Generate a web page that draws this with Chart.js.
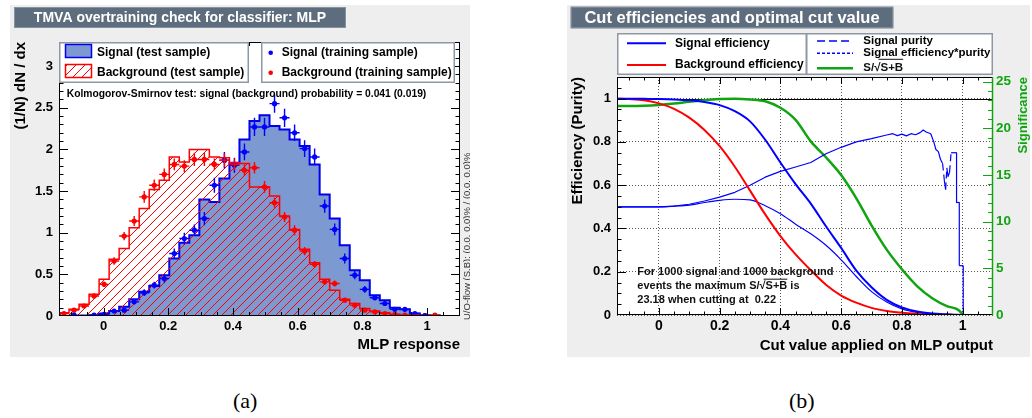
<!DOCTYPE html>
<html>
<head>
<meta charset="utf-8">
<title>MLP overtraining check and cut efficiencies</title>
<script src="https://cdn.jsdelivr.net/npm/chart.js@4.4.1/dist/chart.umd.min.js"></script>
<style>
  html, body { margin: 0; padding: 0; background: #fff; }
  body { position: relative; width: 1032px; height: 418px; overflow: hidden; }
  canvas { position: absolute; display: block; }
  #overtrain { left: 10px; top: 5px; }
  #cuteff { left: 567px; top: 5px; }
  .sub { position: absolute; top: 388px; font: 22px 'Liberation Serif', 'Times New Roman', serif; color: #000; }
</style>
</head>
<body>
<canvas id="overtrain" width="460" height="352"></canvas>
<canvas id="cuteff" width="463" height="352"></canvas>
<div class="sub" style="left:233px">(a)</div>
<div class="sub" style="left:789px">(b)</div>
<script>
// MLP response, 40 bins from -0.138 to 1.102, normalised to unit area
var binLow = -0.138;
var binWidth = 0.031;

var sigTest = [0, 0, 0.005, 0.01, 0.03, 0.06, 0.11, 0.20, 0.29, 0.36,
               0.49, 0.69, 0.88, 0.97, 1.40, 1.37, 1.65, 1.84, 2.12, 2.34,
               2.41, 2.28, 2.24, 2.12, 2.04, 1.82, 1.46, 1.17, 0.85, 0.55,
               0.43, 0.25, 0.19, 0.10, 0.08, 0.03, 0.01, 0.005, 0, 0];
var bkgTest = [0.04, 0.08, 0.14, 0.26, 0.44, 0.68, 0.81, 1.06, 1.29, 1.52,
               1.63, 1.91, 1.85, 2.00, 2.00, 1.91, 1.90, 1.84, 1.83, 1.55,
               1.55, 1.44, 1.20, 1.04, 0.80, 0.64, 0.44, 0.31, 0.20, 0.15,
               0.09, 0.06, 0.04, 0.02, 0.01, 0.01, 0.005, 0, 0, 0];
var sigTrain = [0, 0.01, 0, 0.01, 0.02, 0.06, 0.07, 0.17, 0.28, 0.37,
                0.45, 0.75, 0.93, 1.03, 1.17, 1.57, 1.87, 1.81, 1.97, 2.27,
                2.27, 2.55, 2.38, 2.20, 2.01, 1.91, 1.32, 1.04, 0.69, 0.49,
                0.32, 0.22, 0.15, 0.08, 0.08, 0.03, 0.005, 0, 0, 0];
var sigTrainErr = [0, 0.01, 0, 0.01, 0.01, 0.02, 0.02, 0.03, 0.04, 0.04,
                   0.05, 0.06, 0.07, 0.07, 0.08, 0.09, 0.10, 0.09, 0.10, 0.11,
                   0.11, 0.11, 0.11, 0.10, 0.10, 0.10, 0.08, 0.07, 0.06, 0.05,
                   0.04, 0.03, 0.03, 0.02, 0.02, 0.01, 0.005, 0, 0, 0];
var bkgTrain = [0.03, 0.07, 0.12, 0.24, 0.38, 0.66, 0.96, 1.14, 1.43, 1.57,
                1.70, 1.82, 1.80, 1.88, 1.88, 1.82, 1.87, 1.82, 1.75, 1.78,
                1.55, 1.36, 1.19, 1.03, 0.78, 0.62, 0.41, 0.39, 0.19, 0.13,
                0.07, 0.05, 0.03, 0.02, 0.01, 0.01, 0.005, 0.01, 0, 0];
var bkgTrainErr = [0.01, 0.015, 0.02, 0.03, 0.03, 0.045, 0.05, 0.06, 0.07, 0.07,
                   0.07, 0.07, 0.07, 0.08, 0.08, 0.07, 0.08, 0.07, 0.07, 0.07,
                   0.07, 0.06, 0.06, 0.06, 0.05, 0.04, 0.035, 0.035, 0.025, 0.02,
                   0.015, 0.012, 0.01, 0.008, 0.006, 0.006, 0.004, 0.006, 0, 0];

var respTicks = [0, 0.2, 0.4, 0.6, 0.8, 1];
var respTickLabels = ['0', '0.2', '0.4', '0.6', '0.8', '1'];
var densityTicks = [0, 0.5, 1, 1.5, 2, 2.5, 3];
var densityTickLabels = ['0', '0.5', '1', '1.5', '2', '2.5', '3'];

// efficiencies vs. cut on the MLP output
var cutValues = [-0.138, -0.1, -0.05, 0, 0.05, 0.1, 0.15, 0.2, 0.25, 0.3,
                 0.35, 0.4, 0.45, 0.5, 0.55, 0.6, 0.65, 0.7, 0.75, 0.8,
                 0.85, 0.9, 0.95, 0.98, 0.995, 1.0];
var effSig = [1.0, 1.0, 0.999, 0.998, 0.996, 0.992, 0.984, 0.97, 0.942, 0.895,
              0.81, 0.705, 0.605, 0.515, 0.41, 0.31, 0.205, 0.128, 0.07, 0.035,
              0.016, 0.007, 0.003, 0.001, 0, 0];
var effBkg = [1.0, 0.998, 0.993, 0.978, 0.953, 0.912, 0.855, 0.78, 0.685, 0.575,
              0.465, 0.365, 0.28, 0.207, 0.14, 0.09, 0.057, 0.033, 0.019, 0.01,
              0.005, 0.002, 0.001, 0.0005, 0, 0];
var effPurity = [0.5, 0.5, 0.5, 0.5, 0.503, 0.508, 0.52, 0.53, 0.535, 0.532,
                 0.505, 0.468, 0.42, 0.375, 0.322, 0.255, 0.178, 0.108, 0.06, 0.028,
                 0.012, 0.005, 0.002, 0.001, 0, 0];
var significance = [22.4, 22.4, 22.42, 22.5, 22.65, 22.85, 23.0, 23.15, 23.18, 23.1,
                    22.9, 22.2, 20.9, 18.6, 16.9, 15.0, 12.5, 9.6, 7.0, 4.9,
                    3.1, 1.8, 0.93, 0.65, 0.25, 0];
var purityCut = [-0.138, 0, 0.05, 0.1, 0.15, 0.2, 0.25, 0.3, 0.35, 0.4,
                 0.45, 0.5, 0.55, 0.6, 0.65, 0.7, 0.75, 0.77, 0.785, 0.8,
                 0.815, 0.83, 0.845, 0.86, 0.87, 0.88, 0.895, 0.905, 0.912, 0.92,
                 0.927, 0.934, 0.94, 0.944, 0.948, 0.952, 0.957, 0.962, 0.98, 0.98,
                 0.989, 0.989, 1.002, 1.002];
var purity = [0.5, 0.5, 0.503, 0.512, 0.527, 0.545, 0.567, 0.6, 0.637, 0.664,
              0.684, 0.705, 0.745, 0.775, 0.8, 0.815, 0.832, 0.838, 0.829, 0.836,
              0.828, 0.838, 0.833, 0.843, 0.855, 0.846, 0.838, 0.80, 0.765, 0.755,
              0.72, 0.70, 0.62, 0.58, 0.68, 0.64, 0.66, 0.75, 0.75, 0.52,
              0.52, 0.228, 0.228, 0];

var effTicks = [0, 0.2, 0.4, 0.6, 0.8, 1];
var effTickLabels = ['0', '0.2', '0.4', '0.6', '0.8', '1'];
var signifTicks = [0, 5, 10, 15, 20, 25];
var signifTickLabels = ['0', '5', '10', '15', '20', '25'];
var nSignal = 1000, nBackground = 1000;
var maxSignificance = 23.18;
var optimalCut = 0.22;

var FONT = "'Liberation Sans', Arial, Helvetica, sans-serif";
var PANEL_BG = '#eeeeee';
var SIG_LINE = '#0000ee';
var SIG_FILL = '#7d99d1';
var BKG_LINE = '#ff0000';
var SIGNIF = '#10a510';

Chart.defaults.font.family = FONT;
Chart.defaults.color = '#000';

function stepData(vals) {
    var pts = vals.map(function (v, i) { return { x: binLow + i * binWidth, y: v }; });
    pts.push({ x: binLow + vals.length * binWidth, y: vals[vals.length - 1] });
    return pts;
}
function pointData(vals) {
    return vals.map(function (v, i) { return { x: binLow + (i + 0.5) * binWidth, y: v > 0 ? v : null }; });
}
function xy(xs, ys) {
    return xs.map(function (x, i) { return { x: x, y: ys[i] }; });
}
function multiples(lo, hi, step) {
    var out = [];
    for (var k = Math.ceil(lo / step - 1e-6); k <= Math.floor(hi / step + 1e-6); k++) out.push(k * step);
    return out;
}

// diagonal red hatching for the background histogram
function hatchPattern(color) {
    var c = document.createElement('canvas');
    c.width = 9; c.height = 9;
    var g = c.getContext('2d');
    g.strokeStyle = color; g.lineWidth = 1;
    g.beginPath(); g.moveTo(-1, 10); g.lineTo(10, -1); g.stroke();
    return g.createPattern(c, 'repeat');
}
var bkgHatch = hatchPattern(BKG_LINE);

function txt(ctx, s, x, y, size, o) {
    o = o || {};
    ctx.font = (o.weight || 'bold') + ' ' + size + 'px ' + FONT;
    ctx.fillStyle = o.color || '#000';
    ctx.textAlign = o.align || 'left';
    ctx.textBaseline = 'middle';
    ctx.fillText(s, x, y);
}
// "prefix S/√S+B suffix" with the bar over S+B
function sqrtText(ctx, prefix, suffix, x, y, size, barY) {
    txt(ctx, prefix + 'S/\u221AS+B' + suffix, x, y, size, { color: '#111' });
    var w0 = ctx.measureText(prefix + 'S/\u221A').width;
    var w1 = ctx.measureText(prefix + 'S/\u221AS+B').width;
    var yy = barY !== undefined ? barY : y - size * 0.62;
    ctx.strokeStyle = '#111'; ctx.lineWidth = 1;
    ctx.beginPath(); ctx.moveTo(x + w0 - 2, yy); ctx.lineTo(x + w1, yy); ctx.stroke();
}
function titleBox(ctx, x0, y0, x1, y1, text, size) {
    ctx.fillStyle = '#5e6d7e';
    ctx.fillRect(x0, y0, x1 - x0, y1 - y0);
    ctx.strokeStyle = '#8593a1'; ctx.lineWidth = 1;
    ctx.strokeRect(x0 + 0.5, y0 + 0.5, x1 - x0 - 1, y1 - y0 - 1);
    txt(ctx, text, (x0 + x1) / 2, (y0 + y1) / 2 + 0.5, size, { color: '#fff', align: 'center' });
}
function legendBox(ctx, x0, y0, x1, y1) {
    ctx.fillStyle = '#fff';
    ctx.fillRect(x0, y0, x1 - x0, y1 - y0);
    ctx.strokeStyle = '#8e98a4'; ctx.lineWidth = 1.5;
    ctx.strokeRect(x0 + 0.75, y0 + 0.75, x1 - x0 - 1.5, y1 - y0 - 1.5);
}
// inward tick marks along the frame
function tickMarks(ctx, area, scale, values, len, sides) {
    ctx.beginPath();
    values.forEach(function (v) {
        var p = Math.round(scale.getPixelForValue(v)) + 0.5;
        if (scale.isHorizontal()) {
            if (p < area.left || p > area.right) return;
            if (sides.bottom) { ctx.moveTo(p, area.bottom); ctx.lineTo(p, area.bottom - len); }
            if (sides.top) { ctx.moveTo(p, area.top); ctx.lineTo(p, area.top + len); }
        } else {
            if (p < area.top || p > area.bottom) return;
            if (sides.left) { ctx.moveTo(area.left, p); ctx.lineTo(area.left + len, p); }
            if (sides.right) { ctx.moveTo(area.right, p); ctx.lineTo(area.right - len, p); }
        }
    });
    ctx.stroke();
}
function errorBars(ctx, xs, ys, vals, errs, color) {
    ctx.strokeStyle = color; ctx.lineWidth = 1.4;
    ctx.beginPath();
    vals.forEach(function (v, i) {
        if (!(v > 0)) return;
        var xc = binLow + (i + 0.5) * binWidth;
        var px = xs.getPixelForValue(xc), py = ys.getPixelForValue(v);
        ctx.moveTo(xs.getPixelForValue(xc - binWidth / 2), py);
        ctx.lineTo(xs.getPixelForValue(xc + binWidth / 2), py);
        ctx.moveTo(px, ys.getPixelForValue(v - errs[i]));
        ctx.lineTo(px, ys.getPixelForValue(v + errs[i]));
    });
    ctx.stroke();
}
function panelBackground(chart) {
    var ctx = chart.ctx, a = chart.chartArea;
    ctx.save();
    ctx.fillStyle = PANEL_BG; ctx.fillRect(0, 0, chart.width, chart.height);
    ctx.fillStyle = '#fff'; ctx.fillRect(a.left, a.top, a.right - a.left, a.bottom - a.top);
    ctx.restore();
}
function fixedTicks(values) {
    return function (scale) { scale.ticks = values.map(function (v) { return { value: v }; }); };
}
function labelFor(values, labels) {
    return function (v) { return labels[values.indexOf(v)]; };
}

// ---------- (a) overtraining check ----------
var overtrainDecor = {
    id: 'overtrainDecor',
    beforeDraw: panelBackground,
    afterDatasetsDraw: function (chart) {
        var ctx = chart.ctx, a = chart.chartArea, x = chart.scales.x, y = chart.scales.y;
        ctx.save();
        ctx.beginPath(); ctx.rect(a.left, a.top, a.right - a.left, a.bottom - a.top); ctx.clip();
        errorBars(ctx, x, y, sigTrain, sigTrainErr, '#0000ff');
        errorBars(ctx, x, y, bkgTrain, bkgTrainErr, BKG_LINE);
        ctx.restore();

        ctx.save();
        ctx.strokeStyle = '#000'; ctx.lineWidth = 1;
        ctx.strokeRect(a.left + 0.5, a.top + 0.5, a.right - a.left - 1, a.bottom - a.top - 1);
        tickMarks(ctx, a, x, respTicks, 8, { bottom: true, top: true });
        tickMarks(ctx, a, x, multiples(binLow, 1.1, 0.05), 4, { bottom: true, top: true });
        tickMarks(ctx, a, y, densityTicks, 9, { left: true, right: true });
        tickMarks(ctx, a, y, multiples(0, 3.29, 0.1), 4.5, { left: true, right: true });

        // legends
        legendBox(ctx, 49, 37, 239, 78);
        legendBox(ctx, 251, 37, 445, 78);
        ctx.fillStyle = SIG_FILL; ctx.fillRect(55, 39, 27, 14);
        ctx.strokeStyle = SIG_LINE; ctx.lineWidth = 1.5; ctx.strokeRect(55.5, 39.5, 26, 13);
        ctx.fillStyle = '#fff'; ctx.fillRect(55, 59, 27, 14);
        ctx.fillStyle = bkgHatch; ctx.fillRect(55, 59, 27, 14);
        ctx.strokeStyle = BKG_LINE; ctx.lineWidth = 1.5; ctx.strokeRect(55.5, 59.5, 26, 13);
        txt(ctx, 'Signal (test sample)', 87, 47.7, 12);
        txt(ctx, 'Background (test sample)', 87, 67.7, 12);
        ctx.fillStyle = '#0000ff';
        ctx.beginPath(); ctx.arc(260.7, 47.7, 2.3, 0, Math.PI * 2); ctx.fill();
        ctx.fillStyle = BKG_LINE;
        ctx.beginPath(); ctx.arc(260.7, 67.7, 2.3, 0, Math.PI * 2); ctx.fill();
        txt(ctx, 'Signal (training sample)', 271.7, 47.7, 12);
        txt(ctx, 'Background (training sample)', 271.7, 67.7, 12);

        txt(ctx, 'Kolmogorov-Smirnov test: signal (background) probability = 0.041 (0.019)', 56.7, 89.3, 10.3);

        // under/overflow note on the right margin
        ctx.save();
        ctx.translate(457, 315); ctx.rotate(-Math.PI / 2);
        txt(ctx, 'U/O-flow (S,B): (0.0, 0.0)% / (0.0, 0.0)%', 0, 0, 9.5, { weight: 'normal', color: '#333' });
        ctx.restore();

        titleBox(ctx, 4, 2, 336, 23, 'TMVA overtraining check for classifier: MLP', 14);
        ctx.restore();
    }
};

new Chart(document.getElementById('overtrain'), {
    type: 'line',
    data: {
        datasets: [
            { label: 'Signal (training sample)', data: pointData(sigTrain), showLine: false,
              pointRadius: 2.6, pointBackgroundColor: '#0000ff', pointBorderWidth: 0, order: 0 },
            { label: 'Background (training sample)', data: pointData(bkgTrain), showLine: false,
              pointRadius: 2.6, pointBackgroundColor: BKG_LINE, pointBorderWidth: 0, order: 1 },
            { label: 'Background (test sample)', data: stepData(bkgTest), stepped: true,
              borderColor: BKG_LINE, borderWidth: 1.5, backgroundColor: bkgHatch, fill: 'origin',
              pointRadius: 0, order: 2 },
            { label: 'Signal (test sample)', data: stepData(sigTest), stepped: true,
              borderColor: SIG_LINE, borderWidth: 2, backgroundColor: SIG_FILL, fill: 'origin',
              pointRadius: 0, order: 3 }
        ]
    },
    options: {
        responsive: false,
        animation: false,
        events: [],
        layout: { padding: { top: 37, right: 10, left: 0, bottom: 0 } },
        plugins: { legend: { display: false }, tooltip: { enabled: false } },
        scales: {
            x: {
                type: 'linear', min: binLow, max: binLow + sigTest.length * binWidth,
                afterBuildTicks: fixedTicks(respTicks),
                afterFit: function (s) { s.height = 41; },
                grid: { display: false, drawTicks: false }, border: { display: false },
                ticks: { autoSkip: false, maxRotation: 0, padding: 3,
                         font: { size: 13, weight: 'bold' },
                         callback: labelFor(respTicks, respTickLabels) },
                title: { display: true, text: 'MLP response', align: 'end',
                         font: { size: 15, weight: 'bold' }, padding: { top: 0, bottom: 3 } }
            },
            y: {
                type: 'linear', min: 0, max: 3.29,
                afterBuildTicks: fixedTicks(densityTicks),
                afterFit: function (s) { s.width = 49; },
                grid: { display: false, drawTicks: false }, border: { display: false },
                ticks: { padding: 6, font: { size: 13, weight: 'bold' },
                         callback: labelFor(densityTicks, densityTickLabels) },
                title: { display: true, text: '(1/N) dN / dx', align: 'end',
                         font: { size: 15, weight: 'bold' }, padding: { top: 2, bottom: 0 } }
            }
        }
    },
    plugins: [overtrainDecor]
});

// ---------- (b) cut efficiencies ----------
var cutDecor = {
    id: 'cutDecor',
    beforeDraw: panelBackground,
    beforeDatasetsDraw: function (chart) {
        var ctx = chart.ctx, a = chart.chartArea, y = chart.scales.y;
        var p = Math.round(y.getPixelForValue(1)) + 0.5;
        ctx.save();
        ctx.strokeStyle = '#000'; ctx.lineWidth = 1.2;
        ctx.beginPath(); ctx.moveTo(a.left, p); ctx.lineTo(a.right, p); ctx.stroke();
        ctx.restore();
    },
    afterDatasetsDraw: function (chart) {
        var ctx = chart.ctx, a = chart.chartArea;
        var x = chart.scales.x, y = chart.scales.y, y2 = chart.scales.y2;
        ctx.save();
        ctx.strokeStyle = '#000'; ctx.lineWidth = 1;
        ctx.strokeRect(a.left + 0.5, a.top + 0.5, a.right - a.left - 1, a.bottom - a.top - 1);
        tickMarks(ctx, a, x, effTicks, 7, { bottom: true, top: true });
        tickMarks(ctx, a, x, multiples(-0.138, 1.1, 0.05), 3.5, { bottom: true, top: true });
        tickMarks(ctx, a, y, effTicks, 9, { left: true });
        tickMarks(ctx, a, y, multiples(0, 1.1, 0.05), 4.5, { left: true });

        // significance axis on the right
        ctx.strokeStyle = SIGNIF; ctx.lineWidth = 1.5;
        ctx.beginPath(); ctx.moveTo(a.right - 0.5, a.top); ctx.lineTo(a.right - 0.5, a.bottom); ctx.stroke();
        ctx.lineWidth = 1;
        tickMarks(ctx, a, y2, signifTicks, 10, { right: true });
        tickMarks(ctx, a, y2, multiples(0, 25.5, 1), 5, { right: true });
        ctx.save();
        ctx.translate(456, a.top); ctx.rotate(-Math.PI / 2);
        txt(ctx, 'Significance', 0, 0, 13, { color: SIGNIF, align: 'right' });
        ctx.restore();

        // legend
        legendBox(ctx, 50, 28, 240, 70);
        legendBox(ctx, 239, 28, 426, 70);
        function sample(x0, x1, yy, color, width, dash) {
            ctx.strokeStyle = color; ctx.lineWidth = width; ctx.setLineDash(dash || []);
            ctx.beginPath(); ctx.moveTo(x0, yy); ctx.lineTo(x1, yy); ctx.stroke();
            ctx.setLineDash([]);
        }
        sample(60, 99, 38.3, '#0000ff', 2);
        sample(60, 99, 60, '#ff0000', 2);
        sample(250, 286, 36, '#0000ff', 1.5, [8, 4]);
        sample(250, 286, 48.3, '#0000ff', 1.5, [3, 2]);
        sample(250, 286, 63.3, SIGNIF, 2.5);
        txt(ctx, 'Signal efficiency', 108, 38.3, 12);
        txt(ctx, 'Background efficiency', 108, 60, 12);
        txt(ctx, 'Signal purity', 296.3, 36, 11.5);
        txt(ctx, 'Signal efficiency*purity', 296.3, 48.3, 11.5);
        sqrtText(ctx, '', '', 296.3, 63.3, 11.5, 54.3);

        // optimal cut summary
        txt(ctx, 'For ' + nSignal + ' signal and ' + nBackground + ' background', 70.3, 267.3, 11, { color: '#111' });
        sqrtText(ctx, 'events the maximum ', ' is', 70.3, 281, 11);
        txt(ctx, maxSignificance.toFixed(2) + ' when cutting at  ' + optimalCut.toFixed(2), 70.3, 295, 11, { color: '#111' });

        titleBox(ctx, 3.7, 1.7, 326.3, 23.3, 'Cut efficiencies and optimal cut value', 16.5);
        ctx.restore();
    }
};

// steep jumps of the purity curve show as dashes, the smooth part stays solid
function steepSegmentDash(ctx) {
    var dx = Math.abs(ctx.p1.x - ctx.p0.x), dy = Math.abs(ctx.p1.y - ctx.p0.y);
    return (dy > 12 && dy > 2 * dx) ? [7, 4] : undefined;
}

new Chart(document.getElementById('cuteff'), {
    type: 'line',
    data: {
        datasets: [
            { label: 'Signal efficiency', data: xy(cutValues, effSig), borderColor: '#0000ff',
              borderWidth: 2, cubicInterpolationMode: 'monotone' },
            { label: 'Background efficiency', data: xy(cutValues, effBkg), borderColor: '#ff0000',
              borderWidth: 2, cubicInterpolationMode: 'monotone' },
            { label: 'Signal purity', data: xy(purityCut, purity), borderColor: '#0000ff',
              borderWidth: 1.2, segment: { borderDash: steepSegmentDash } },
            { label: 'Signal efficiency*purity', data: xy(cutValues, effPurity), borderColor: '#0000ff',
              borderWidth: 1.2, cubicInterpolationMode: 'monotone' },
            { label: 'S/\u221AS+B', data: xy(cutValues, significance), borderColor: SIGNIF,
              borderWidth: 2.5, yAxisID: 'y2', cubicInterpolationMode: 'monotone' }
        ]
    },
    options: {
        responsive: false,
        animation: false,
        events: [],
        elements: { point: { radius: 0 }, line: { fill: false, borderJoinStyle: 'round' } },
        layout: { padding: { top: 72, right: 0, left: 0, bottom: 0 } },
        plugins: { legend: { display: false }, tooltip: { enabled: false } },
        scales: {
            x: {
                type: 'linear', min: -0.138, max: 1.1,
                afterBuildTicks: fixedTicks(effTicks),
                afterFit: function (s) { s.height = 42; },
                grid: { display: true, color: '#444', lineWidth: 0.9, drawTicks: false },
                border: { display: false, dash: [1, 2] },
                ticks: { autoSkip: false, maxRotation: 0, padding: 3,
                         font: { size: 14, weight: 'bold' },
                         callback: labelFor(effTicks, effTickLabels) },
                title: { display: true, text: 'Cut value applied on MLP output', align: 'end',
                         font: { size: 15, weight: 'bold' }, padding: { top: 0, bottom: 2 } }
            },
            y: {
                type: 'linear', position: 'left', min: 0, max: 1.1,
                afterBuildTicks: fixedTicks(effTicks),
                afterFit: function (s) { s.width = 50; },
                grid: { display: true, color: '#444', lineWidth: 0.9, drawTicks: false },
                border: { display: false, dash: [1, 2] },
                ticks: { padding: 6, font: { size: 13, weight: 'bold' },
                         callback: labelFor(effTicks, effTickLabels) },
                title: { display: true, text: 'Efficiency (Purity)', align: 'end',
                         font: { size: 15, weight: 'bold' }, padding: { top: 2, bottom: 0 } }
            },
            y2: {
                type: 'linear', position: 'right', min: 0, max: 1.1 * maxSignificance,
                afterBuildTicks: fixedTicks(signifTicks),
                afterFit: function (s) { s.width = 37; },
                grid: { display: false, drawTicks: false }, border: { display: false },
                ticks: { padding: 3, color: SIGNIF, font: { size: 13.5, weight: 'bold' },
                         callback: labelFor(signifTicks, signifTickLabels) }
            }
        }
    },
    plugins: [cutDecor]
});
</script>
</body>
</html>
